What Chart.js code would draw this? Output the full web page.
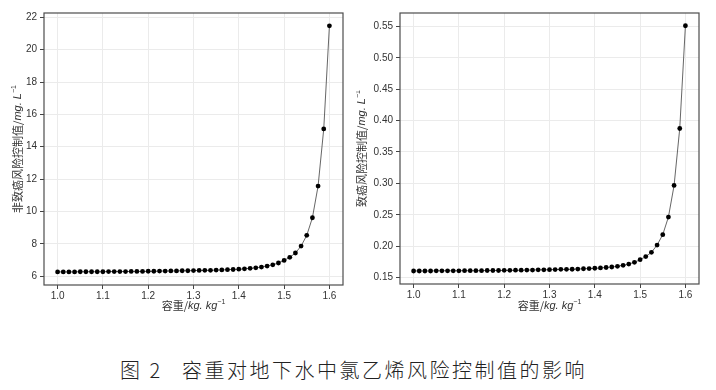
<!DOCTYPE html>
<html>
<head>
<meta charset="utf-8">
<script src="https://cdn.jsdelivr.net/npm/chart.js@4/dist/chart.umd.min.js"></script>
<style>
  html, body { margin: 0; padding: 0; background: #fff; }
  body { width: 716px; height: 390px; position: relative; overflow: hidden; }
  #c1 { position: absolute; left: 0; top: 0; }
  #c2 { position: absolute; left: 356px; top: 0; }
  .cap { position: absolute; top: 359px; font-family: "Noto Sans CJK SC", sans-serif; font-weight: 300;
         font-size: 20px; line-height: 22px; color: #222; letter-spacing: 2.5px; white-space: nowrap; }
</style>
</head>
<body>
<canvas id="c1" width="356" height="320"></canvas>
<canvas id="c2" width="360" height="320"></canvas>
<div class="cap" style="left:120px">图 2</div>
<div class="cap" style="left:182px">容重对地下水中氯乙烯风险控制值的影响</div>
<script>
// 容重 (kg/kg)
const bulkDensity = [
  1.0, 1.0125, 1.025, 1.0375, 1.05, 1.0625, 1.075, 1.0875,
  1.1, 1.1125, 1.125, 1.1375, 1.15, 1.1625, 1.175, 1.1875,
  1.2, 1.2125, 1.225, 1.2375, 1.25, 1.2625, 1.275, 1.2875,
  1.3, 1.3125, 1.325, 1.3375, 1.35, 1.3625, 1.375, 1.3875,
  1.4, 1.4125, 1.425, 1.4375, 1.45, 1.4625, 1.475, 1.4875,
  1.5, 1.5125, 1.525, 1.5375, 1.55, 1.5625, 1.575, 1.5875,
  1.6
];

// 非致癌风险控制值 (mg/L)
const nonCancerValues = [
  6.26, 6.26, 6.26, 6.26, 6.27, 6.27, 6.27, 6.27,
  6.27, 6.28, 6.28, 6.28, 6.28, 6.29, 6.29, 6.29,
  6.30, 6.30, 6.31, 6.31, 6.32, 6.32, 6.33, 6.33,
  6.34, 6.35, 6.36, 6.36, 6.37, 6.38, 6.40, 6.41,
  6.43, 6.45, 6.48, 6.51, 6.56, 6.62, 6.70, 6.81,
  6.97, 7.16, 7.43, 7.86, 8.52, 9.61, 11.57, 15.10,
  21.48
];

// 致癌风险控制值 (mg/L)
const cancerValues = [
  0.1605, 0.1605, 0.1605, 0.1605, 0.1608, 0.1608, 0.1608, 0.1608,
  0.1608, 0.1610, 0.1610, 0.1610, 0.1610, 0.1613, 0.1613, 0.1613,
  0.1615, 0.1615, 0.1618, 0.1618, 0.1620, 0.1620, 0.1623, 0.1623,
  0.1626, 0.1628, 0.1631, 0.1631, 0.1633, 0.1636, 0.1641, 0.1643,
  0.1649, 0.1654, 0.1661, 0.1669, 0.1680, 0.1696, 0.1716, 0.1743,
  0.1786, 0.1834, 0.1902, 0.2018, 0.2184, 0.2464, 0.2967, 0.3874,
  0.5510
];

const xTicks = [1.0, 1.1, 1.2, 1.3, 1.4, 1.5, 1.6];
const nonCancerTicks = [6, 8, 10, 12, 14, 16, 18, 20, 22];
const cancerTicks = [0.15, 0.20, 0.25, 0.30, 0.35, 0.40, 0.45, 0.50, 0.55];

const tickFont = { family: 'Liberation Sans, Arial, sans-serif', size: 10 };
const cjk = '"Noto Sans CJK SC", sans-serif';
const latin = '"Liberation Sans", Arial, sans-serif';

// 轴标题：分段绘制（斜体 / 上标）
function drawSegs(ctx, segs, cx, cy, angle) {
  ctx.save();
  ctx.translate(cx, cy);
  ctx.rotate(angle);
  ctx.textBaseline = 'middle';
  ctx.fillStyle = '#333';
  const fonts = segs.map(s => s.sup ? '7px ' + latin : (s.italic ? 'italic 11px ' + latin : '11px ' + cjk));
  let total = 0;
  const widths = segs.map((s, i) => { ctx.font = fonts[i]; const w = ctx.measureText(s.t).width; total += w; return w; });
  let x = -total / 2;
  segs.forEach((s, i) => {
    ctx.font = fonts[i];
    ctx.fillText(s.t, x, s.sup ? -4 : 0);
    x += widths[i];
  });
  ctx.restore();
}

const frameAndTitles = {
  id: 'frameAndTitles',
  afterDraw(chart, args, opts) {
    const ctx = chart.ctx, a = chart.chartArea;
    ctx.save();
    ctx.strokeStyle = '#4d4d4d';
    ctx.lineWidth = 1.2;
    ctx.strokeRect(a.left, a.top, a.right - a.left, a.bottom - a.top);
    ctx.restore();
    drawSegs(ctx, opts.xTitle, (a.left + a.right) / 2, opts.xTitleY, 0);
    drawSegs(ctx, opts.yTitle, opts.yTitleX, (a.top + a.bottom) / 2, -Math.PI / 2);
  }
};

const xTitle = [{ t: '容重/' }, { t: 'kg. kg', italic: true }, { t: '−1', sup: true }];

function makeChart(id, values, yMin, yMax, yTicks, digits, yTitle, yTitleX, padRight, xHeight) {
  return new Chart(document.getElementById(id), {
    type: 'line',
    data: {
      datasets: [{
        data: bulkDensity.map((x, i) => ({ x: x, y: values[i] })),
        borderColor: '#555',
        borderWidth: 0.9,
        pointRadius: 2.4,
        pointBackgroundColor: '#000',
        pointBorderWidth: 0,
        tension: 0,
        fill: false
      }]
    },
    options: {
      responsive: false,
      animation: false,
      layout: { padding: { top: 13, right: padRight, left: 0, bottom: 0 } },
      plugins: {
        legend: { display: false },
        tooltip: { enabled: false },
        frameAndTitles: { xTitle: xTitle, xTitleY: 306, yTitle: yTitle, yTitleX: yTitleX }
      },
      scales: {
        x: {
          type: 'linear',
          min: 0.97,
          max: 1.63,
          afterBuildTicks: s => { s.ticks = xTicks.map(v => ({ value: v })); },
          afterFit: s => { s.height = xHeight; },
          ticks: { callback: v => v.toFixed(1), font: tickFont, color: '#333', padding: 1, autoSkip: false, maxRotation: 0 },
          grid: { color: '#ebebeb', tickColor: '#444', tickLength: 4 },
          border: { display: false }
        },
        y: {
          min: yMin,
          max: yMax,
          afterBuildTicks: s => { s.ticks = yTicks.map(v => ({ value: v })); },
          afterFit: s => { s.width = 44; },
          ticks: { callback: v => v.toFixed(digits), font: tickFont, color: '#333', padding: 3, autoSkip: false },
          grid: { color: '#ebebeb', tickColor: '#444', tickLength: 4 },
          border: { display: false }
        }
      }
    },
    plugins: [frameAndTitles]
  });
}

makeChart('c1', nonCancerValues, 5.45, 22.27, nonCancerTicks, 0,
  [{ t: '非致癌风险控制值/' }, { t: 'mg. L', italic: true }, { t: '−1', sup: true }], 18, 13, 35);

makeChart('c2', cancerValues, 0.1398, 0.5713, cancerTicks, 2,
  [{ t: '致癌风险控制值/' }, { t: 'mg. L', italic: true }, { t: '−1', sup: true }], 6, 17, 36);
</script>
</body>
</html>
